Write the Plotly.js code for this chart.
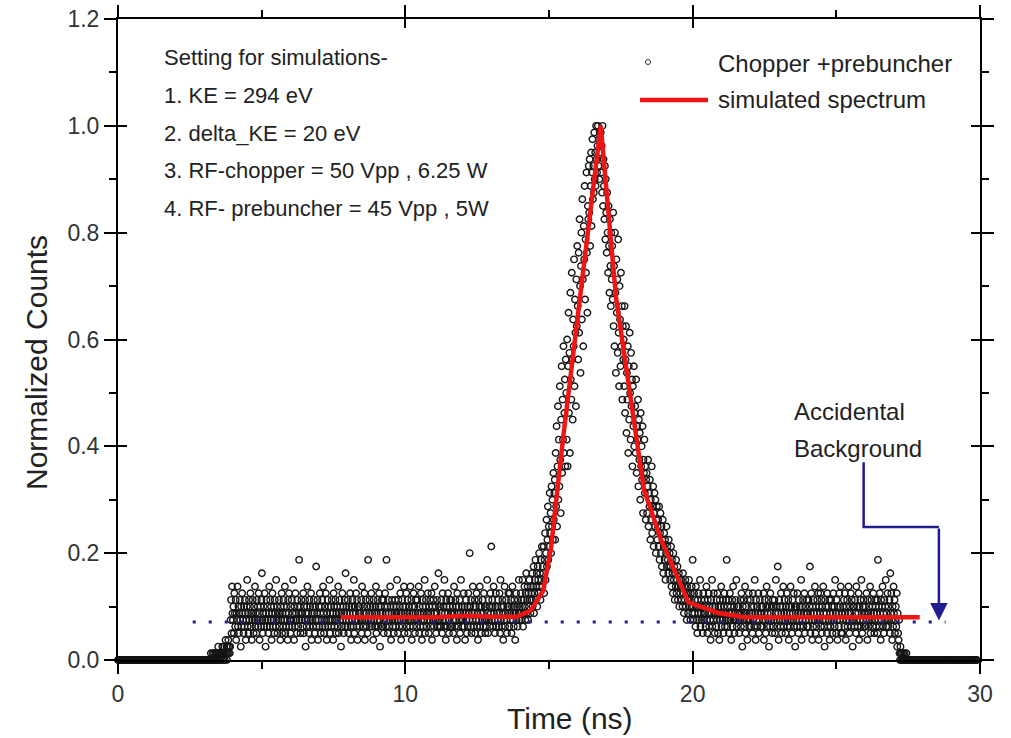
<!DOCTYPE html>
<html><head><meta charset="utf-8">
<script src="https://cdn.plot.ly/plotly-3.0.1.min.js"></script>
<style>html,body{margin:0;padding:0;background:#fff}#chart{width:1011px;height:738px}</style>
</head><body><div id="chart"></div>
<script>
// ---- time axis of the measured spectrum (bins) ----
const T0 = 0;        // ns, first bin
const DT = 0.016;    // ns, bin width (25 bins = 0.4 ns per row below)
const NORM = 80;     // counts in the highest bin (normalisation)

const countsLeadIn = [
0,0,0,0,0,0,0,0,0,0,0,0,0,0,0,0,0,0,0,0,0,0,0,0,0,
0,0,0,0,0,0,0,0,0,0,0,0,0,0,0,0,0,0,0,0,0,0,0,0,0,
0,0,0,0,0,0,0,0,0,0,0,0,0,0,0,0,0,0,0,0,0,0,0,0,0,
0,0,0,0,0,0,0,0,0,0,0,0,0,0,0,0,0,0,0,0,0,0,0,0,0,
0,0,0,0,0,0,0,0,0,0,0,0,0,0,0,0,0,0,0,0,0,0,0,0,0,
0,0,0,0,0,0,0,0,0,0,0,0,0,0,0,0,0,0,0,0,0,0,0,0,0,
0,0,0,0,0,0,0,0,0,0,0,0,0,0,0,0,0,0,0,0,0,0,0,0,0,
0,0,0,0,0,0,0,0,0,0,0,0,0,0,0,0,0,0,0,0,0,0,0,0,0,
0,0,1,0,0,0,1,0,0,1,0,0,1,1,0,0,1,0,2,1,0,1,0,1,1,
1,0,2,1,0,1,2,0,1,3,1,2,0,1,2,3,1,2,1,2,6,9,4,11,7
];
const countsEarlyBackground = [
6,8,4,10,7,5,9,3,7,6,11,5,8,4,7,9,6,2,8,5,10,7,6,4,8,
5,9,7,3,6,8,12,5,7,4,9,6,8,10,5,7,3,6,9,7,4,8,6,11,5,
7,4,9,6,8,5,10,7,3,6,8,5,9,13,6,4,7,8,5,10,6,2,7,9,5,
8,6,4,7,11,5,9,6,8,3,7,10,5,6,8,4,9,7,5,12,6,8,4,7,6,
9,5,7,3,8,6,10,4,7,5,9,8,6,11,4,7,5,8,6,3,9,7,10,5,6,
4,8,6,9,5,7,12,6,3,8,5,10,7,6,4,9,8,5,7,15,6,8,4,7,9,
6,7,5,10,4,8,6,9,2,7,5,8,11,6,7,4,9,5,8,6,10,3,7,6,8,
5,9,7,4,8,6,14,5,7,9,3,6,8,5,10,7,4,8,6,9,5,11,7,4,6,
8,5,10,6,3,7,9,5,8,6,12,4,7,8,5,9,6,7,3,10,8,5,6,9,4,
7,6,8,5,11,4,7,9,6,8,2,7,5,10,6,8,4,7,9,5,13,6,8,7,5,
9,4,6,8,7,10,5,3,8,6,9,7,5,12,4,8,6,7,10,5,9,3,6,8,7,
5,8,7,6,9,4,11,6,8,5,7,10,3,6,9,7,5,8,4,15,6,7,9,5,8,
6,10,5,7,8,3,9,6,7,5,8,11,4,7,6,9,5,8,10,6,2,7,8,5,9,
7,5,9,4,6,8,10,7,5,15,6,8,4,9,7,5,6,11,8,3,7,9,6,5,8,
4,7,6,9,5,8,7,12,6,4,9,7,5,8,10,6,3,7,9,5,8,6,11,4,7,
8,6,10,5,7,9,4,6,8,7,5,11,6,9,3,8,7,5,10,6,8,4,7,9,6,
5,9,7,6,11,4,8,7,5,10,6,3,9,8,5,7,6,12,4,8,9,5,7,6,10,
7,4,8,6,9,5,7,10,3,8,6,9,5,7,11,6,8,4,7,9,5,6,13,8,5,
6,8,5,9,7,4,10,6,8,5,12,7,6,3,9,8,5,7,10,6,4,8,9,5,7,
9,5,7,8,4,6,11,7,5,9,6,8,3,10,7,5,8,6,9,4,7,12,6,8,5,
6,7,10,5,8,3,7,9,6,4,8,5,10,7,6,16,8,5,9,4,7,6,11,5,8,
7,9,4,8,6,10,5,7,3,9,6,8,11,5,7,4,8,6,9,7,5,10,6,8,4,
5,8,6,12,7,4,9,6,8,5,10,7,17,6,9,8,5,11,7,6,4,8,10,5,7,
8,6,9,5,7,10,4,12,6,8,5,9,7,3,8,6,11,5,7,9,6,4,8,7,10
];
const countsPeak = [
8,5,10,7,6,9,4,8,11,6,7,5,9,8,3,7,10,6,8,5,9,7,12,6,8,
7,10,6,9,8,12,5,9,7,11,8,6,10,13,7,9,11,6,10,8,12,9,7,11,10,
9,13,8,11,14,7,10,12,15,9,11,13,8,14,12,10,16,11,13,9,15,12,17,11,14,
13,17,10,15,19,12,16,21,14,18,23,15,20,17,25,19,22,16,26,20,24,18,28,21,25,
27,18,31,23,35,20,29,38,24,33,26,41,30,22,36,44,28,39,33,47,31,37,42,29,45,
40,33,48,29,44,52,37,46,31,55,42,39,58,45,36,51,47,60,41,54,49,38,57,50,62,
53,45,61,49,66,56,43,59,64,51,69,57,47,65,60,71,54,63,58,73,61,52,68,66,74,
67,75,62,71,76,65,73,78,69,74,70,79,72,76,71,80,75,73,77,80,74,78,72,79,76,
79,73,77,70,80,68,75,71,66,74,63,72,67,61,70,64,58,68,62,55,66,59,53,64,57,
62,54,67,50,59,47,64,55,43,60,52,57,46,63,49,41,56,51,44,58,47,53,39,50,45,
48,41,53,37,45,50,34,43,39,47,31,44,36,49,40,33,46,38,42,29,41,35,44,32,37,
38,31,42,28,35,33,39,26,36,30,34,24,37,29,32,27,35,22,30,28,33,25,29,21,27,
28,22,26,30,20,25,23,27,18,24,21,29,19,23,26,17,22,25,20,24,16,21,23,18,20,
21,17,23,15,19,22,16,20,14,18,21,13,17,19,15,18,12,16,20,14,17,15,13,18,14,
16,12,14,17,11,15,13,10,16,12,14,9,13,11,15,10,12,14,9,11,13,8,12,10,11,
12,9,11,8,13,10,7,11,9,12,8,10,6,11,9,7,10,12,8,9,6,10,8,11,7
];
const countsLateBackground = [
15,8,6,10,7,9,5,11,8,6,4,9,7,10,6,8,12,5,7,9,6,8,4,10,7,
6,9,7,5,8,11,6,4,9,7,10,5,8,6,3,9,7,12,5,8,6,10,7,4,8,
7,5,9,6,10,4,8,7,3,9,6,8,11,5,7,6,9,4,8,10,5,7,6,9,15,
5,8,6,9,4,7,10,6,8,3,7,9,5,11,6,8,4,7,6,9,12,5,8,7,6,
8,4,7,6,9,5,10,7,2,8,6,9,5,7,11,4,8,6,7,3,9,6,10,5,7,
6,9,5,8,7,4,10,6,8,5,12,7,3,9,6,8,5,7,10,4,6,9,7,5,8,
7,5,8,6,10,3,7,9,6,4,8,11,5,7,6,9,2,8,5,10,7,6,8,4,9,
5,8,6,9,4,7,12,6,8,5,14,7,3,9,6,8,5,10,7,4,8,6,11,5,7,
9,6,4,8,7,10,5,6,9,3,8,7,5,11,6,8,4,9,7,6,10,5,8,2,7,
6,8,5,10,7,4,9,6,8,5,7,12,3,8,6,9,5,7,10,4,8,6,7,9,5,
7,5,9,6,8,14,4,7,10,6,3,8,5,9,7,6,11,4,8,5,7,9,6,10,3,
8,6,7,10,5,9,4,8,6,11,7,5,2,9,6,8,7,4,10,5,8,6,9,3,7,
5,9,6,8,4,7,10,6,8,5,12,7,4,9,6,3,8,7,5,10,6,8,11,4,7,
7,4,8,6,9,5,10,7,3,8,6,9,5,7,11,6,4,8,7,10,5,9,6,2,8,
6,8,5,9,7,4,11,6,8,5,7,10,3,8,6,9,5,12,7,4,8,6,9,7,5,
8,5,7,10,6,3,9,7,5,8,6,11,4,7,9,6,8,5,10,7,4,6,9,8,5,
7,9,4,15,6,8,5,10,7,3,9,6,8,11,5,7,4,9,6,8,12,5,7,6,10,
5,8,6,9,4,13,7,10,6,3,8,5,11,7,9,4,6,8,5,10,2,7,4,3,6
];
const countsTail = [
1,0,2,1,0,1,0,0,1,0,0,1,0,0,0,1,0,0,0,0,0,0,0,0,0,
0,0,0,0,0,0,0,0,0,0,0,0,0,0,0,0,0,0,0,0,0,0,0,0,0,
0,0,0,0,0,0,0,0,0,0,0,0,0,0,0,0,0,0,0,0,0,0,0,0,0,
0,0,0,0,0,0,0,0,0,0,0,0,0,0,0,0,0,0,0,0,0,0,0,0,0,
0,0,0,0,0,0,0,0,0,0,0,0,0,0,0,0,0,0,0,0,0,0,0,0,0,
0,0,0,0,0,0,0,0,0,0,0,0,0,0,0,0,0,0,0,0,0,0,0,0,0,
0,0,0,0,0,0,0,0,0,0,0,0,0,0,0,0,0,0,0
];

// ---- simulated spectrum (red line) ----
const simTime  = [7.75, 9.0, 10.0, 11.0, 12.2, 13.0, 13.9, 14.37, 14.8, 15.07, 15.5, 16.1, 16.8, 17.33, 17.86, 18.3, 18.9, 19.85, 20.9, 21.8, 27.9];
const simLevel = [0.080, 0.080, 0.079, 0.080, 0.083, 0.081, 0.081, 0.093, 0.13, 0.21, 0.42, 0.68, 1.0, 0.68, 0.49, 0.32, 0.225, 0.108, 0.088, 0.080, 0.080];

// ---- accidental background level (dotted blue) ----
const bgTime  = [2.6, 28.8];
const bgLevel = [0.071, 0.071];

// ---- texts ----
const seriesNames = ['Chopper +prebuncher', 'simulated spectrum'];
const settingLines = [
  'Setting for simulations-',
  '1. KE = 294 eV',
  '2. delta_KE = 20 eV',
  '3. RF-chopper = 50 Vpp , 6.25 W',
  '4. RF- prebuncher = 45 Vpp , 5W'
];
const bgLabel = ['Accidental', 'Background'];
const xTitle = 'Time (ns)';
const yTitle = 'Normalized Counts';
const xTickVals = [0, 10, 20, 30];
const yTickVals = [0, 0.2, 0.4, 0.6, 0.8, 1.0, 1.2];

const counts = [...countsLeadIn, ...countsEarlyBackground, ...countsPeak, ...countsLateBackground, ...countsTail];
const normCounts = counts.map(c => c / NORM);

const FONT = 'Liberation Sans, Arial, Helvetica, sans-serif';
const NAVY = '#1e1e8e';

const traces = [
  { type: 'scatter', mode: 'markers', name: seriesNames[0], x0: T0, dx: DT, y: normCounts,
    cliponaxis: false, showlegend: false,
    marker: { symbol: 'circle-open', size: 6.5, color: '#141414', line: { width: 1.4, color: '#141414' } } },
  { type: 'scatter', mode: 'lines', name: 'background level', x: bgTime, y: bgLevel, showlegend: false,
    line: { color: NAVY, width: 3, dash: '3px,13px' } },
  { type: 'scatter', mode: 'lines', name: seriesNames[1], x: simTime, y: simLevel, showlegend: false,
    line: { color: '#ee1515', width: 4.5 } },
  { type: 'scatter', mode: 'markers', x: [], y: [], xaxis: 'x2', yaxis: 'y2', showlegend: false, hoverinfo: 'skip' }
];

// px -> paper helpers for annotation placement
const L = 118, R = 31, T = 19, B = 78, W = 1011, H = 738;
const px = v => (v - L) / (W - L - R);
const py = v => (H - B - v) / (H - T - B);

const annotations = [];
settingLines.forEach((t, i) => {
  annotations.push({ xref: 'paper', yref: 'paper', x: px(162), y: py([57, 95, 133, 171, 209][i]),
    xanchor: 'left', yanchor: 'middle', showarrow: false, text: t,
    font: { family: FONT, size: 22, color: '#222' } });
});
seriesNames.forEach((t, i) => {
  annotations.push({ xref: 'paper', yref: 'paper', x: px(716), y: py([63, 100][i]),
    xanchor: 'left', yanchor: 'middle', showarrow: false, text: t,
    font: { family: FONT, size: 24, color: '#222' } });
});
bgLabel.forEach((t, i) => {
  annotations.push({ xref: 'paper', yref: 'paper', x: px(792), y: py([411, 448][i]),
    xanchor: 'left', yanchor: 'middle', showarrow: false, text: t,
    font: { family: FONT, size: 24, color: '#222' } });
});
// axis titles (placed as in the reference, slightly off-centre)
annotations.push({ xref: 'paper', yref: 'paper', x: px(570), y: py(718), xanchor: 'center', yanchor: 'middle',
  showarrow: false, text: xTitle, font: { family: FONT, size: 30, color: '#222' } });
annotations.push({ xref: 'paper', yref: 'paper', x: px(36), y: py(363), xanchor: 'center', yanchor: 'middle',
  showarrow: false, textangle: -90, text: yTitle, font: { family: FONT, size: 30, color: '#222' } });
annotations.push({ xref: 'x', yref: 'y', axref: 'x', ayref: 'y', x: 28.57, y: 0.074, ax: 28.57, ay: 0.249,
  text: '', showarrow: true, arrowhead: 2, arrowsize: 1.4, arrowwidth: 2.5, arrowcolor: NAVY });

const shapes = [
  { type: 'path', xref: 'x', yref: 'y', path: 'M25.95,0.37 L25.95,0.249 L28.57,0.249',
    line: { color: NAVY, width: 2.5 } },
  { type: 'line', xref: 'paper', yref: 'paper', x0: px(640), x1: px(708), y0: py(100), y1: py(100),
    line: { color: '#ee1515', width: 4.5 } },
  { type: 'circle', xref: 'paper', yref: 'paper', xsizemode: 'pixel', ysizemode: 'pixel',
    xanchor: px(648), yanchor: py(62), x0: -2.5, x1: 2.5, y0: -2.5, y1: 2.5,
    line: { color: '#333', width: 1 } }
];

const axBase = { showgrid: false, zeroline: false, linecolor: '#000', linewidth: 2,
  tickcolor: '#000', tickwidth: 2 };

const layout = {
  width: W, height: H, margin: { l: L, r: R, t: T, b: B },
  paper_bgcolor: '#fff', plot_bgcolor: '#fff', showlegend: false,
  font: { family: FONT, color: '#333' },
  xaxis: Object.assign({}, axBase, {
    range: [0, 30], tickmode: 'array', tickvals: xTickVals, ticktext: xTickVals.map(String),
    ticks: 'outside', ticklen: 12, showline: true, mirror: 'allticks',
    minor: { dtick: 5, tick0: 0, ticks: 'outside', ticklen: 7, tickwidth: 2, tickcolor: '#000', showgrid: false },
    tickfont: { family: FONT, size: 23, color: '#333' }
  }),
  yaxis: Object.assign({}, axBase, {
    range: [0, 1.2], tickmode: 'array', tickvals: yTickVals, ticktext: yTickVals.map(v => v.toFixed(1)),
    ticks: 'outside', ticklen: 12, showline: true, mirror: 'allticks',
    minor: { dtick: 0.1, tick0: 0, ticks: 'outside', ticklen: 7, tickwidth: 2, tickcolor: '#000', showgrid: false },
    tickfont: { family: FONT, size: 23, color: '#333' }
  }),
  xaxis2: Object.assign({}, axBase, {
    overlaying: 'x', anchor: 'y2', side: 'bottom', range: [0, 30], tickmode: 'array', tickvals: xTickVals,
    ticks: 'inside', ticklen: 9, showline: false, mirror: 'allticks', showticklabels: false
  }),
  yaxis2: Object.assign({}, axBase, {
    overlaying: 'y', anchor: 'x2', side: 'left', range: [0, 1.2], tickmode: 'array', tickvals: yTickVals,
    ticks: 'inside', ticklen: 9, showline: false, mirror: 'allticks', showticklabels: false
  }),
  annotations: annotations,
  shapes: shapes
};

Plotly.newPlot('chart', traces, layout, { displayModeBar: false, staticPlot: true });
</script>
</body></html>
